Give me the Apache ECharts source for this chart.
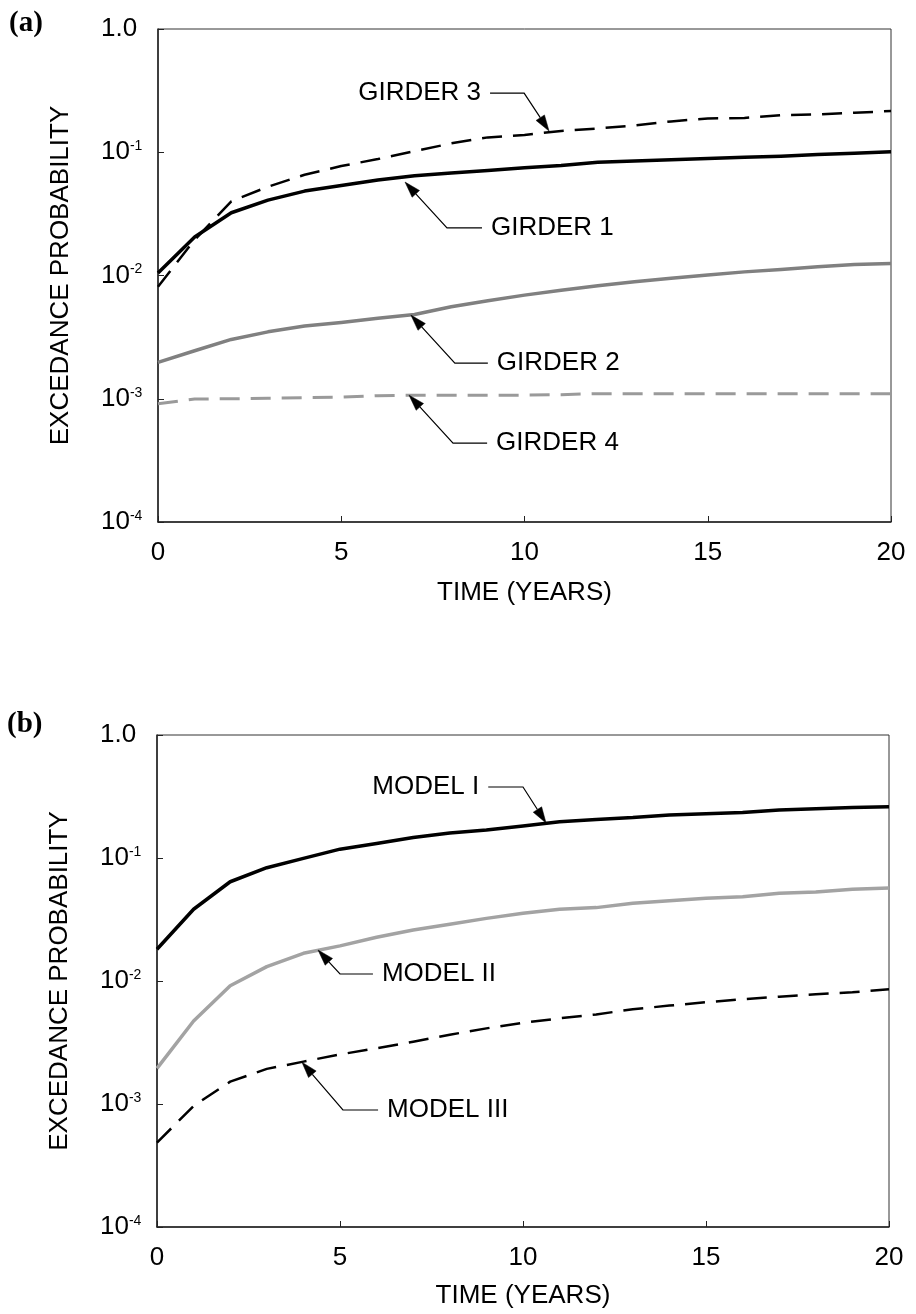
<!DOCTYPE html>
<html>
<head>
<meta charset="utf-8">
<script src="https://cdn.jsdelivr.net/npm/echarts@6/dist/echarts.min.js"></script>
<style>
html,body{margin:0;padding:0;background:#fff;}
#c{width:916px;height:1314px;}
</style>
</head>
<body>
<div id="c"></div>
<script>
// ---- data ----
const years = [0,1,2,3,4,5,6,7,8,9,10,11,12,13,14,15,16,17,18,19,20];
const xTicks = [0,5,10,15,20];
const yTickExps = [-4,-3,-2,-1,0];

const girder1 = [0.0105,0.0205,0.0323,0.0409,0.0484,0.0538,0.0595,0.0645,0.0678,0.0712,0.0748,0.078,0.0828,0.085,0.087,0.089,0.091,0.093,0.096,0.098,0.101];
const girder2 = [0.00197,0.00245,0.00303,0.00349,0.0039,0.00416,0.00449,0.00483,0.00557,0.00623,0.00693,0.0076,0.00826,0.0089,0.0095,0.0101,0.0107,0.0112,0.0118,0.0123,0.0125];
const girder3 = [0.0081,0.0195,0.040,0.0525,0.0657,0.0773,0.088,0.102,0.118,0.132,0.138,0.149,0.156,0.165,0.178,0.188,0.19,0.2,0.203,0.209,0.216];
const girder4 = [0.00091,0.000995,0.001,0.00101,0.00102,0.00103,0.00106,0.00107,0.00107,0.00107,0.00107,0.00108,0.0011,0.0011,0.0011,0.0011,0.0011,0.0011,0.0011,0.0011,0.0011];

const model1 = [0.0181,0.0383,0.0641,0.0834,0.0994,0.118,0.131,0.147,0.16,0.169,0.182,0.197,0.206,0.213,0.224,0.229,0.234,0.246,0.252,0.257,0.261];
const model2 = [0.00195,0.00473,0.00916,0.0131,0.0168,0.0193,0.0227,0.026,0.0289,0.0323,0.0355,0.0383,0.0395,0.0428,0.045,0.047,0.0485,0.0517,0.053,0.0556,0.057];
const model3 = [0.000485,0.000964,0.00152,0.00193,0.00221,0.00253,0.00284,0.00321,0.00366,0.00412,0.00458,0.00497,0.00535,0.00589,0.00631,0.00672,0.0071,0.00746,0.0078,0.0081,0.00855];

// annotations: tip, elbow and leader end in data coords (years, probability)
const annotationsA = [
  {text:'GIRDER 3', tip:[10.67,0.1486], elbow:[9.99,0.302], end:[9.06,0.302], side:'left'},
  {text:'GIRDER 1', tip:[6.74,0.0573], elbow:[7.885,0.0243], end:[8.84,0.0243], side:'right'},
  {text:'GIRDER 2', tip:[6.90,0.00477], elbow:[8.10,0.001945], end:[9.00,0.001945], side:'right'},
  {text:'GIRDER 4', tip:[6.85,0.00107], elbow:[8.05,0.000436], end:[8.98,0.000436], side:'right'}
];
const annotationsB = [
  {text:'MODEL I', tip:[10.63,0.1926], elbow:[10.0,0.3778], end:[9.05,0.3778], side:'left'},
  {text:'MODEL II', tip:[4.40,0.01786], elbow:[5.00,0.0114], end:[5.90,0.0114], side:'right'},
  {text:'MODEL III', tip:[3.96,0.00219], elbow:[5.08,0.000894], end:[6.04,0.000894], side:'right'}
];

// ---- chart ----
const FONT = 'Liberation Sans, Arial, Helvetica, sans-serif';
const FS = 26;
const chart = echarts.init(document.getElementById('c'), null, {renderer:'canvas'});

function pairs(arr){ return years.map((t,i)=>[t, arr[i]]); }

function yLabel(v){
  const e = Math.round(Math.log10(v));
  if (e === 0) return '{b|1.0}';
  return '{b|10}{s|' + e + '}';
}

function xAxisCfg(gi, gap){
  return {
    gridIndex: gi, type:'value', min:0, max:20, interval:5,
    name:'TIME (YEARS)', nameLocation:'middle', nameGap:gap,
    nameTextStyle:{fontFamily:FONT, fontSize:FS, color:'#000'},
    axisLine:{show:true, lineStyle:{color:'#222', width:1.5}},
    axisTick:{show:true, inside:true, length:6, lineStyle:{color:'#222', width:1}},
    axisLabel:{fontFamily:FONT, fontSize:FS, color:'#000', margin:18},
    splitLine:{show:false}
  };
}
function yAxisCfg(gi){
  return {
    gridIndex: gi, type:'log', logBase:10, min:1e-4, max:1,
    name:'EXCEDANCE PROBABILITY', nameLocation:'middle', nameGap:84,
    nameTextStyle:{fontFamily:FONT, fontSize:FS, color:'#000'},
    axisLine:{show:true, lineStyle:{color:'#222', width:1.5}},
    axisTick:{show:true, inside:true, length:6, lineStyle:{color:'#222', width:1}},
    axisLabel:{
      formatter: yLabel, align:'left', margin:57, color:'#000',
      rich:{
        b:{fontFamily:FONT, fontSize:FS, color:'#000'},
        s:{fontFamily:FONT, fontSize:14, color:'#000', verticalAlign:'top'}
      }
    },
    splitLine:{show:false}
  };
}
function lineSeries(name, gi, arr, color, width, dashed){
  return {
    name, type:'line', xAxisIndex:gi, yAxisIndex:gi, data:pairs(arr),
    showSymbol:false, symbol:'none', smooth:false, silent:true,
    lineStyle:{color, width, type: dashed ? [20,11] : 'solid', cap:'butt', join:'round'},
    z: 3
  };
}

chart.setOption({
  animation:false,
  backgroundColor:'#fff',
  grid:[
    {left:158, top:29, width:733, height:493, show:true, borderColor:'#333', borderWidth:1, backgroundColor:'transparent'},
    {left:157, top:735, width:732, height:492, show:true, borderColor:'#333', borderWidth:1, backgroundColor:'transparent'}
  ],
  xAxis:[xAxisCfg(0,58), xAxisCfg(1,56)],
  yAxis:[yAxisCfg(0), yAxisCfg(1)],
  series:[
    lineSeries('GIRDER 4',0,girder4,'#9a9a9a',3,true),
    lineSeries('GIRDER 2',0,girder2,'#808080',3.5,false),
    lineSeries('GIRDER 3',0,girder3,'#000',2.5,true),
    lineSeries('GIRDER 1',0,girder1,'#000',3.5,false),
    lineSeries('MODEL III',1,model3,'#000',2.5,true),
    lineSeries('MODEL II',1,model2,'#a3a3a3',3.5,false),
    lineSeries('MODEL I',1,model1,'#000',3.5,false)
  ]
});

// ---- annotations (leader + arrowhead + text), converted from data coords ----
function buildAnno(list, gi){
  const els = [];
  list.forEach(a=>{
    const P = chart.convertToPixel({gridIndex:gi}, a.tip);
    const E = chart.convertToPixel({gridIndex:gi}, a.elbow);
    const L = chart.convertToPixel({gridIndex:gi}, a.end);
    const dx = P[0]-E[0], dy = P[1]-E[1];
    const len = Math.sqrt(dx*dx+dy*dy);
    const ux = dx/len, uy = dy/len;
    const hl = 16, hw = 5;
    const B = [P[0]-ux*hl, P[1]-uy*hl];
    const nx = -uy, ny = ux;
    els.push({type:'polyline', silent:true, z:10,
      shape:{points:[L, E, B]}, style:{stroke:'#000', lineWidth:1.2, fill:null}});
    els.push({type:'polygon', silent:true, z:10,
      shape:{points:[P, [B[0]+nx*hw, B[1]+ny*hw], [B[0]-nx*hw, B[1]-ny*hw]]},
      style:{fill:'#000', stroke:'#000', lineWidth:0.5}});
    const gap = 9;
    const tx = a.side === 'left' ? L[0]-gap : L[0]+gap;
    els.push({type:'text', silent:true, z:10, x:tx, y:L[1],
      style:{text:a.text, font:FS+'px '+FONT, fill:'#000',
        textAlign: a.side === 'left' ? 'right' : 'left', align: a.side === 'left' ? 'right' : 'left',
        textVerticalAlign:'middle', verticalAlign:'middle'}});
  });
  return els;
}

const graphics = [
  {type:'text', left:9, top:9, silent:true,
    style:{text:'(a)', font:'bold 29px "Liberation Serif", "Times New Roman", serif', fill:'#000'}},
  {type:'text', left:7, top:710, silent:true,
    style:{text:'(b)', font:'bold 29px "Liberation Serif", "Times New Roman", serif', fill:'#000'}}
].concat(buildAnno(annotationsA,0), buildAnno(annotationsB,1));

chart.setOption({graphic: graphics});
</script>
</body>
</html>
